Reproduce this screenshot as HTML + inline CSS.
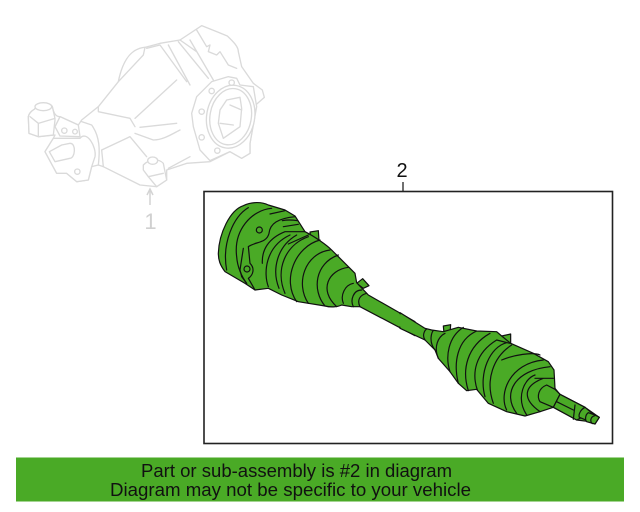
<!DOCTYPE html>
<html><head><meta charset="utf-8"><style>
html,body{margin:0;padding:0;background:#fff}
svg{display:block}
text{font-family:"Liberation Sans",sans-serif}
</style></head><body>
<svg width="640" height="512" viewBox="0 0 640 512" xmlns="http://www.w3.org/2000/svg">
<rect width="640" height="512" fill="#fff"/>
<!-- Differential -->
<g transform="translate(20 10) scale(.33333)" fill="#fff" stroke="#dadada" stroke-width="4" stroke-linejoin="round" stroke-linecap="round">
<path d="M545 47L590 65L622 78C640 95 655 110 655 125L665 170L700 220L727 240L733 262L707 285L700 340L690 400L690 430L665 445L630 425L570 455L500 460L440 480L440 510L410 530L360 525L250 470L235 465L215 470L205 510L170 515L140 490L110 490L75 425L100 385L105 375L55 380L27 370L25 320C30 300 45 300 45 295C50 280 90 275 97 290C100 305 105 320 120 320L175 345L185 330L235 290L295 215C310 140 340 115 375 112L420 100L480 90Z"/>
<g fill="none">
<path d="M295 215L370 135L375 112M235 290L235 305L330 325L345 350M345 325L470 210M360 352L470 340M345 370L400 390C430 390 460 370 480 360M380 115L420 105L500 215M445 105L510 225M475 95L565 205M510 90L580 210M480 90L530 125M530 60L560 110L570 105L565 125L590 135L600 125L625 165L650 175M445 475L510 440"/>
<path d="M245 420L330 380L380 440M245 420L250 470M185 335L215 345C240 380 240 420 235 465"/>
</g>
<path d="M515 310L530 260L575 215L625 200L650 205L660 225L700 230L710 290L690 400L690 430L665 445L630 425L570 452L540 420L520 350Z"/>
<ellipse cx="632" cy="320" rx="72" ry="95" transform="rotate(10 632 320)"/>
<ellipse cx="632" cy="320" rx="62" ry="85" transform="rotate(10 632 320)"/>
<path d="M620 270L660 262L665 295L660 350L610 385L595 340L600 300Z"/>
<path fill="none" d="M630 285L665 300M600 340L640 345"/>
<circle cx="635" cy="218" r="8"/><circle cx="575" cy="243" r="8"/><circle cx="545" cy="305" r="8"/><circle cx="545" cy="382" r="8"/><circle cx="592" cy="422" r="8"/>
<path d="M370 465C390 445 415 445 430 460L440 510L410 530L385 500L370 480Z"/>
<ellipse cx="398" cy="452" rx="15" ry="11"/>
<path fill="none" d="M385 500L430 490"/>
<path d="M25 320C30 300 45 300 45 295C50 280 90 275 97 290C100 305 105 320 105 330L100 375L55 380L27 370Z"/>
<ellipse cx="70" cy="290" rx="25" ry="12"/>
<path fill="none" d="M30 320L55 340L105 325M55 340L55 380"/>
<path d="M120 320L175 345L180 380L120 378L105 350Z"/>
<circle cx="133" cy="362" r="8"/><circle cx="165" cy="365" r="7"/>
<path d="M75 425L100 385L180 385C200 360 230 410 225 440L215 470L205 510L170 515L140 490L110 490Z"/>
<path d="M88 425L125 405L150 400C170 400 165 445 150 445L105 455Z"/>
<circle cx="172" cy="485" r="8"/>
</g>
<path d="M150 190V205M147 195L150 189L153 195" fill="none" stroke="#d4d4d4" stroke-width="1.5"/>
<text x="150.500" y="229" font-size="22" fill="#d0d0d0" text-anchor="middle">1</text>
<!-- Frame -->
<rect x="204" y="191.500" width="408.500" height="252" fill="#fff" stroke="#222" stroke-width="1.600"/>
<path d="M403 182V191" stroke="#222" stroke-width="1.300"/>
<text x="402" y="177" font-size="20" fill="#111" text-anchor="middle">2</text>
<!-- Axle, inner joint -->
<g transform="translate(205 190) scale(.33333)" fill="#4aaa26" stroke="#111" stroke-width="3.600" stroke-linejoin="round" stroke-linecap="round">
<path d="M315 126L340 122L342 150L318 152Z"/>
<path d="M455 280L473 266L492 287L475 295Z"/>
<path d="M40 190C42 130 75 60 115 47C140 35 170 35 190 45L240 60L270 78L300 125C330 140 365 165 380 180L450 250L455 278L490 315L630 395L630 437L465 350L440 350L410 345C395 352 375 352 360 348L280 335L230 315L190 295L150 300L120 280L60 245C45 225 40 210 40 190Z"/>
<g fill="none">
<path d="M130 53C85 80 50 160 65 240M200 55C140 60 85 120 95 200C97 230 110 260 125 280"/>
<path d="M150 300L130 265C145 255 150 235 135 220L130 170C150 155 185 160 192 130C195 100 220 85 270 80M105 240L110 260L125 280M105 240L115 175"/>
<path d="M195 72L240 62M232 92C250 88 265 90 278 92M235 110L280 103M250 162L310 135"/>
<path d="M172 220C170 180 190 145 240 125L300 125M190 290C175 250 180 170 255 135M222 295C200 240 215 170 275 135M240 310C210 240 240 165 310 140M275 335C230 270 270 170 345 150M310 340C270 280 300 190 375 180M360 348C320 300 330 220 400 195M395 350C340 300 370 240 430 232M415 340C405 315 420 285 445 280M445 350C435 330 445 300 470 300M465 350C455 330 465 315 485 310"/>
</g>
<ellipse cx="163" cy="120" rx="9" ry="9"/>
<ellipse cx="126" cy="237" rx="9" ry="9"/>
</g>
<!-- Axle, outer joint -->
<g transform="translate(400 300) scale(.33333)" fill="#4aaa26" stroke="#111" stroke-width="3.600" stroke-linejoin="round" stroke-linecap="round">
<path d="M130 78L152 74L150 100L132 100Z"/>
<path d="M305 108L332 102L332 132L308 130Z"/>
<path d="M0 38L75 85L95 90L130 95L175 82L230 93L290 95L305 108L332 130L400 160L445 185L462 210L465 265L480 283L555 322L598 352L585 372L570 365L530 360L460 322L420 335L375 348L320 335L265 310L230 268L200 272L175 250L150 215L115 175L105 150L75 120L0 85Z"/>
<g fill="none">
<path d="M75 120C65 105 75 90 80 87M105 150C85 125 95 95 100 92M115 175C100 140 115 110 135 100M150 215C135 170 145 110 190 82M175 250C160 190 170 120 230 93M205 272C185 210 200 140 270 100M232 270C215 220 225 160 290 120L330 130M255 290C235 220 270 140 320 128M280 310C255 240 280 170 335 135"/>
<path d="M305 180C340 165 400 155 420 165M320 330C295 280 330 190 430 180M350 340C305 280 345 210 450 200M380 345C345 290 375 235 405 225M405 235L460 235M420 335C370 300 365 260 430 235"/>
</g>
<path d="M440 255C415 265 410 290 420 305L460 322L480 283L465 268Z"/>
<path d="M480 283L555 322L560 345L530 360L460 322Z"/>
<path fill="none" d="M470 305L520 330M525 315L520 358"/>
<path d="M555 322C540 330 535 345 538 352L570 365L585 347Z"/>
<path d="M565 338C555 345 555 360 560 365L585 372L598 352L585 345Z"/>
<path d="M585 347C570 350 570 365 577 371"/>
</g>
<!-- Shaft overlay hides the seam between the two joint drawings -->
<polygon points="394,310.800 420,326 420,336.600 394,323.600" fill="#4aaa26"/>
<!-- Banner -->
<rect x="16" y="457.500" width="608" height="44" fill="#4aaa26"/>
<text x="296.500" y="477" font-size="18" fill="#111" text-anchor="middle" textLength="311" lengthAdjust="spacingAndGlyphs">Part or sub-assembly is #2 in diagram</text>
<text x="290.500" y="496" font-size="18" fill="#111" text-anchor="middle" textLength="361" lengthAdjust="spacingAndGlyphs">Diagram may not be specific to your vehicle</text>
</svg>
</body></html>
